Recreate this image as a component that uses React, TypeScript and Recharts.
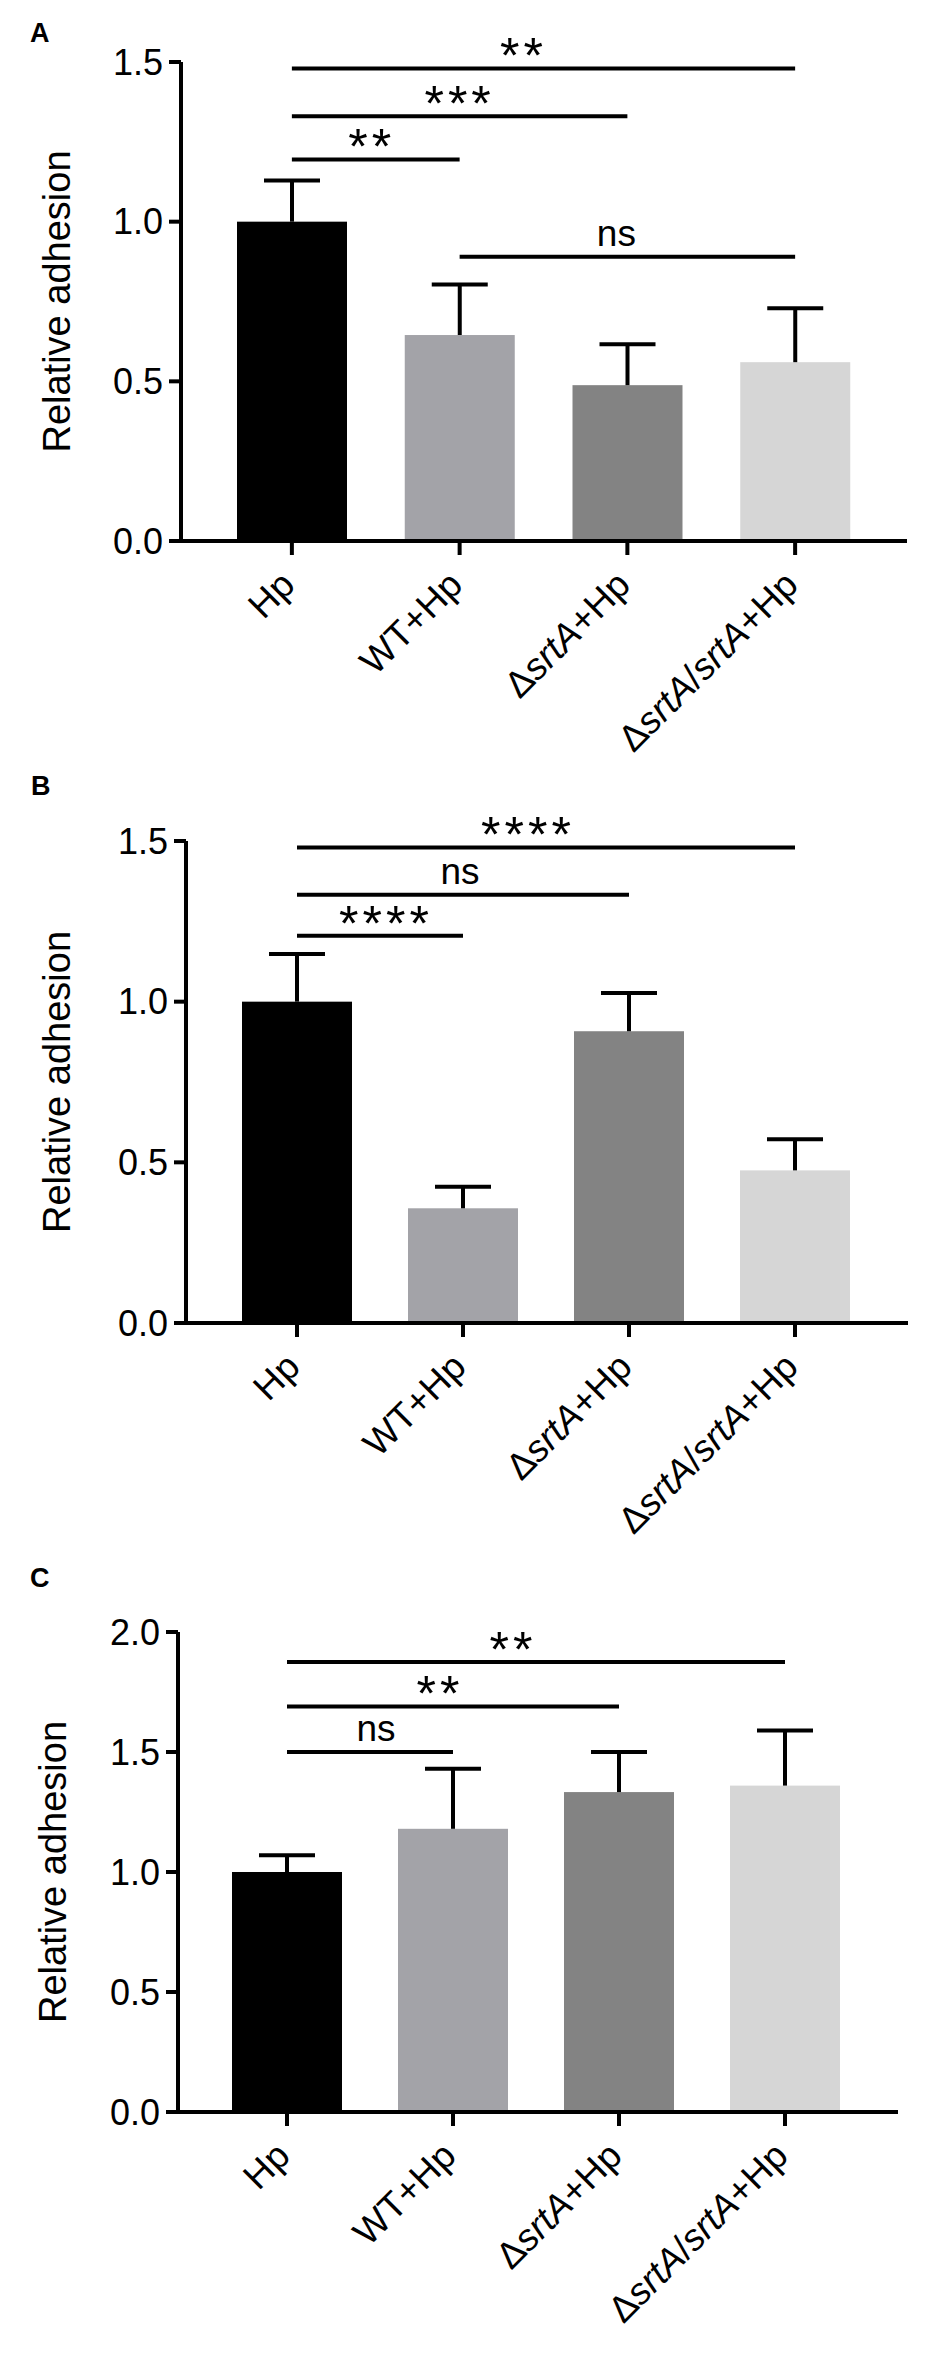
import React from 'react';
import { BarChart, Bar, XAxis, YAxis, ReferenceLine } from 'recharts';

const FONT = '"Liberation Sans", Arial, Helvetica, sans-serif';

const categories = ['Hp', 'WT+Hp', 'ΔsrtA+Hp', 'ΔsrtA/srtA+Hp'];
const barColors = ['#000000', '#a3a3a8', '#838383', '#d6d6d6'];

const meansA = [1.0, 0.645, 0.488, 0.56];
const errsA = [0.129, 0.158, 0.128, 0.169];
const meansB = [1.0, 0.357, 0.908, 0.475];
const errsB = [0.148, 0.067, 0.119, 0.097];
const meansC = [1.0, 1.18, 1.333, 1.36];
const errsC = [0.07, 0.25, 0.167, 0.23];

const yTicksAB = [0, 0.5, 1.0, 1.5];
const yTicksC = [0, 0.5, 1.0, 1.5, 2.0];

const bracketsA = [
  { from: 'Hp', to: 'WT+Hp', y: 1.195, text: '**' },
  { from: 'Hp', to: 'ΔsrtA+Hp', y: 1.33, text: '***' },
  { from: 'Hp', to: 'ΔsrtA/srtA+Hp', y: 1.48, text: '**' },
  { from: 'WT+Hp', to: 'ΔsrtA/srtA+Hp', y: 0.89, text: 'ns' },
];
const bracketsB = [
  { from: 'Hp', to: 'WT+Hp', y: 1.205, text: '****' },
  { from: 'Hp', to: 'ΔsrtA+Hp', y: 1.333, text: 'ns' },
  { from: 'Hp', to: 'ΔsrtA/srtA+Hp', y: 1.48, text: '****' },
];
const bracketsC = [
  { from: 'Hp', to: 'WT+Hp', y: 1.5, text: 'ns' },
  { from: 'Hp', to: 'ΔsrtA+Hp', y: 1.69, text: '**' },
  { from: 'Hp', to: 'ΔsrtA/srtA+Hp', y: 1.875, text: '**' },
];

// presentational label shifts (px)
const shiftsA = [-4, 0, -20, -11];
const shiftsB = [6, -3, -18];
const shiftsC = [6, -13, -23];

const layoutA = { top: 0, height: 760, margin: { top: 62, right: 40, bottom: 69, left: 101 }, pad: { left: 27, right: 28 }, titleDist: 111 };
const layoutB = { top: 760, height: 780, margin: { top: 81, right: 39, bottom: 67, left: 106 }, pad: { left: 28, right: 30 }, titleDist: 116 };
const layoutC = { top: 1540, height: 816, margin: { top: 92, right: 49, bottom: 94, left: 98 }, pad: { left: 26, right: 30 }, titleDist: 112 };

const AXIS_W = 4;

const CatTick = (props: any) => {
  const { x, y, payload } = props;
  const parts = String(payload.value).split(/(srtA)/).filter((p) => p !== '');
  return (
    <g transform={`translate(${x + 5},${y + 32})`}>
      <text x={0} y={0} textAnchor="end" transform="rotate(-45)" fontSize={37} fontFamily={FONT} fill="#000">
        {parts.map((p, i) =>
          p === 'srtA' ? (
            <tspan key={i} fontStyle="italic">{p}</tspan>
          ) : (
            <tspan key={i}>{p}</tspan>
          )
        )}
      </text>
    </g>
  );
};

const BarWithError = (props: any) => {
  const { x, y, width, height, index, payload } = props;
  const k = height / payload.value;
  const cx = x + width / 2;
  const top = y - payload.err * k;
  return (
    <g>
      <rect x={x} y={y} width={width} height={height} fill={barColors[index]} />
      <line x1={cx} x2={cx} y1={y} y2={top} stroke="#000" strokeWidth={4} />
      <line x1={cx - 28} x2={cx + 28} y1={top} y2={top} stroke="#000" strokeWidth={4} />
    </g>
  );
};

function makeBracketLabel(text: string, shift: number) {
  return (p: any) => {
    const vb = p.viewBox || {};
    const cx = vb.x + vb.width / 2 + shift;
    const isStars = text.indexOf('*') >= 0;
    return (
      <text
        x={cx}
        y={isStars ? vb.y + 5 : vb.y - 11}
        textAnchor="middle"
        fontSize={isStars ? 50 : 37}
        letterSpacing={isStars ? 4 : 0}
        fontFamily={FONT}
        fill="#000"
      >
        {text}
      </text>
    );
  };
}

function makeTitle(dist: number) {
  return (p: any) => {
    const vb = p.viewBox || {};
    const tx = vb.x + vb.width - dist;
    const ty = vb.y + vb.height / 2;
    return (
      <text x={tx} y={ty} transform={`rotate(-90, ${tx}, ${ty})`} textAnchor="middle" fontSize={38} fontFamily={FONT} fill="#000">
        Relative adhesion
      </text>
    );
  };
}

function Panel(props: any) {
  const { means, errs, brackets, shifts, yMax, yTicks, layout } = props;
  const data = categories.map((c, i) => ({ name: c, value: means[i], err: errs[i] }));
  return (
    <div style={{ position: 'absolute', left: 0, top: layout.top }}>
      <BarChart width={947} height={layout.height} data={data} margin={layout.margin}>
        <XAxis
          dataKey="name"
          type="category"
          interval={0}
          padding={layout.pad}
          height={150}
          tickSize={14}
          tickMargin={0}
          axisLine={{ stroke: '#000', strokeWidth: AXIS_W }}
          tickLine={{ stroke: '#000', strokeWidth: AXIS_W }}
          tick={<CatTick />}
        />
        <YAxis
          type="number"
          domain={[0, yMax]}
          ticks={yTicks}
          interval={0}
          width={80}
          tickSize={12}
          tickMargin={6}
          tickFormatter={(v: number) => v.toFixed(1)}
          axisLine={{ stroke: '#000', strokeWidth: AXIS_W }}
          tickLine={{ stroke: '#000', strokeWidth: AXIS_W }}
          tick={{ fontSize: 36, fill: '#000', fontFamily: FONT }}
          label={makeTitle(layout.titleDist)}
        />
        <Bar dataKey="value" barSize={110} isAnimationActive={false} shape={<BarWithError />} />
        {brackets.map((b: any, i: number) => (
          <ReferenceLine
            key={i}
            segment={[{ x: b.from, y: b.y }, { x: b.to, y: b.y }]}
            stroke="#000"
            strokeWidth={4}
            ifOverflow="visible"
            label={makeBracketLabel(b.text, shifts[i])}
          />
        ))}
      </BarChart>
    </div>
  );
}

export default function App() {
  return (
    <div style={{ position: 'absolute', left: 0, top: 0, width: 947, height: 2356, background: '#fff' }}>
      <Panel means={meansA} errs={errsA} brackets={bracketsA} shifts={shiftsA} yMax={1.5} yTicks={yTicksAB} layout={layoutA} />
      <Panel means={meansB} errs={errsB} brackets={bracketsB} shifts={shiftsB} yMax={1.5} yTicks={yTicksAB} layout={layoutB} />
      <Panel means={meansC} errs={errsC} brackets={bracketsC} shifts={shiftsC} yMax={2.0} yTicks={yTicksC} layout={layoutC} />
      <svg width={947} height={2356} style={{ position: 'absolute', left: 0, top: 0, pointerEvents: 'none' }}>
        <text x={30} y={42} fontSize={27} fontWeight="bold" fontFamily={FONT} fill="#000">A</text>
        <text x={31} y={795} fontSize={27} fontWeight="bold" fontFamily={FONT} fill="#000">B</text>
        <text x={30} y={1587} fontSize={27} fontWeight="bold" fontFamily={FONT} fill="#000">C</text>
      </svg>
    </div>
  );
}
